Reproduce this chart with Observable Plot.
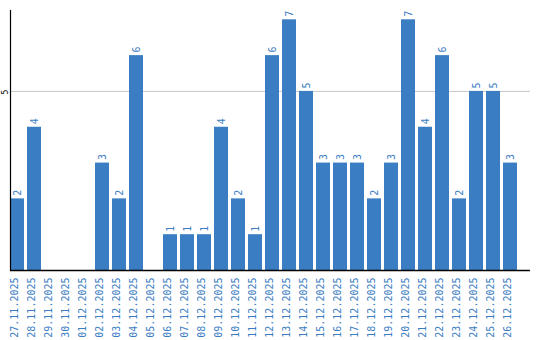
<!DOCTYPE html>
<html><head><meta charset="utf-8">
<script src="https://cdn.jsdelivr.net/npm/d3@7"></script>
<script src="https://cdn.jsdelivr.net/npm/@observablehq/plot@0.6"></script>
<style>body{margin:0;background:#fff}</style>
</head><body><div id="chart"></div>
<script>
const dates = ["27.11.2025","28.11.2025","29.11.2025","30.11.2025","01.12.2025","02.12.2025","03.12.2025","04.12.2025","05.12.2025","06.12.2025","07.12.2025","08.12.2025","09.12.2025","10.12.2025","11.12.2025","12.12.2025","13.12.2025","14.12.2025","15.12.2025","16.12.2025","17.12.2025","18.12.2025","19.12.2025","20.12.2025","21.12.2025","22.12.2025","23.12.2025","24.12.2025","25.12.2025","26.12.2025"];
const counts = [2,4,0,0,0,3,2,6,0,1,1,1,4,2,1,6,7,5,3,3,3,2,3,7,4,6,2,5,5,3];
const yTicks = [5];
const data = dates.map((d,i)=>({date:d, value:counts[i]}));
const blue = "#3b7dc2";
const font = "DejaVu Sans Mono";
const chart = Plot.plot({
  width: 540, height: 340,
  marginLeft: 10, marginRight: 10, marginTop: 10, marginBottom: 70,
  style: {fontFamily: font, fontSize: "10px", background: "#fff", overflow: "visible"},
  x: {domain: dates, range: [10, 517], paddingInner: 3/17, paddingOuter: 0, align: 0, axis: null},
  y: {domain: [0, 7.26], axis: null},
  marks: [
    Plot.gridY(yTicks, {stroke: "#c8c8c8", strokeOpacity: 1, strokeWidth: 1}),
    Plot.barY(data, {x: "date", y: "value", fill: blue}),
    Plot.text(data.filter(d=>d.value>0), {x: "date", y: "value", text: d=>String(d.value), rotate: -90, textAnchor: "start", dy: -3, fill: blue, fontSize: 10}),
    Plot.text(dates, {x: d=>d, frameAnchor: "bottom", text: d=>d, rotate: -90, textAnchor: "end", dy: 7, fill: blue, fontSize: 10}),
    Plot.text(yTicks, {y: d=>d, frameAnchor: "left", dx: -5, dy: 3, text: d=>String(d), rotate: -90, fill: "#000", fontSize: 8}),
    Plot.ruleY([0], {stroke: "#000", strokeWidth: 1.5}),
    Plot.frame({anchor: "left", stroke: "#000", strokeWidth: 1.2})
  ]
});
document.getElementById("chart").appendChild(chart);
</script>
</body></html>
